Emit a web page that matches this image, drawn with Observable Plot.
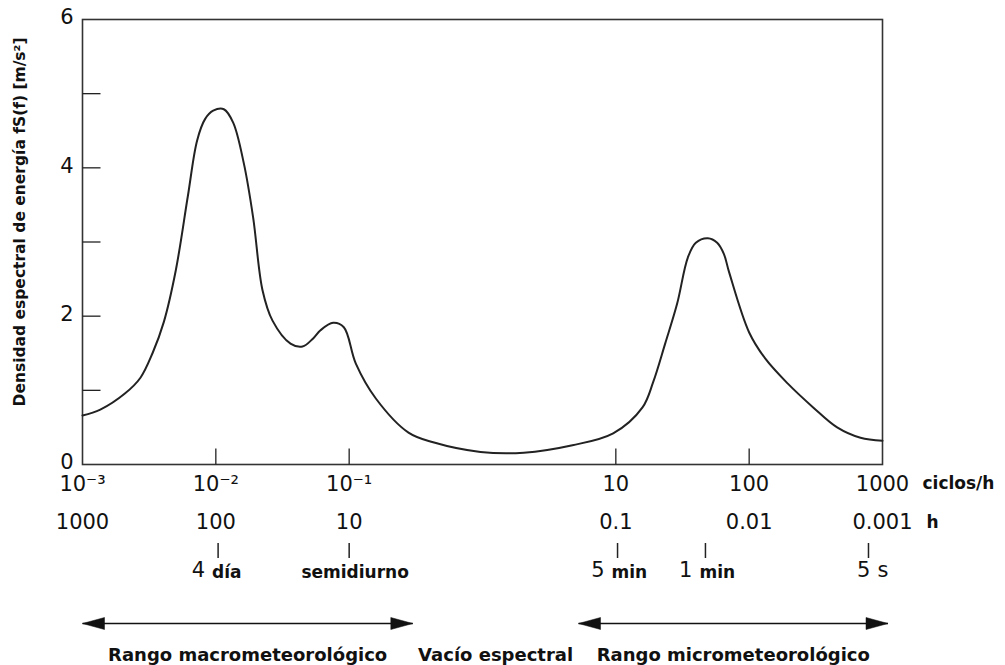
<!DOCTYPE html>
<html>
<head>
<meta charset="utf-8">
<script src="https://cdn.jsdelivr.net/npm/d3@7"></script>
<script src="https://cdn.jsdelivr.net/npm/@observablehq/plot@0.6"></script>
<style>
  html, body { margin: 0; padding: 0; background: #fff; }
  #chart svg { display: block; }
</style>
</head>
<body>
<div id="chart"></div>
<script>
// ---- Data ----
// Frequency in cycles per hour (log axis) and spectral energy density fS(f) [m/s²]
const frequency = [
  0.001, 0.00136, 0.00209, 0.00272, 0.00335, 0.00407, 0.00501, 0.00617, 0.00724,
  0.00832, 0.00955, 0.01148, 0.01349, 0.01622, 0.01905, 0.02239, 0.02661, 0.03631, 0.04467,
  0.0537, 0.06095, 0.07586, 0.0912, 0.1122, 0.1585, 0.2786, 0.4266, 0.966, 2.04,
  4.73, 9.55, 15.85, 19.05, 23.44, 28.84, 34.67, 39.81, 48.98, 57.54,
  64.57, 70.79, 100, 131.8, 195, 302, 457, 684, 1000
];
const density = [
  0.66, 0.74, 0.96, 1.17, 1.50, 1.92, 2.62, 3.62, 4.37,
  4.66, 4.77, 4.79, 4.61, 4.06, 3.33, 2.35, 1.94, 1.63, 1.59,
  1.70, 1.81, 1.91, 1.85, 1.36, 0.89, 0.43, 0.30, 0.17, 0.16,
  0.26, 0.42, 0.77, 1.11, 1.63, 2.17, 2.79, 2.99, 3.05, 2.99,
  2.84, 2.59, 1.78, 1.43, 1.09, 0.77, 0.50, 0.36, 0.32
];

// Axis ticks
const yTickLabels = [0, 2, 4, 6];
const yMinorTicks = [1, 2, 3, 4, 5];
const freqTicks = [0.001, 0.01, 0.1, 10, 100, 1000];
const freqTickLabels = ["10⁻³", "10⁻²", "10⁻¹", "10", "100", "1000"];
const freqInnerTicks = [0.01, 0.1, 10, 100];
const periodHourLabels = ["1000", "100", "10", "0.1", "0.01", "0.001"];

// Characteristic periods
const periodFreq = [0.0104, 0.1, 10.3, 47, 785];
const periodNumber = ["4", "", "5", "1", "5"];
const periodUnit = ["día", "semidiurno", "min", "min", "s"];

// Ranges
const rangeNames = ["Rango macrometeorológico", "Rango micrometeorológico"];
const rangeFrom = [0.001, 5.25];
const rangeTo = [0.30, 1100];
const gapName = "Vacío espectral";

const yTitle = "Densidad espectral de energía fS(f) [m/s²]";
const unitCycles = "ciclos/h";
const unitHours = "h";

// ---- Build tables ----
const spectrum = frequency.map((f, i) => ({f, v: density[i]}));
const cyclesRow = freqTicks.map((f, i) => ({f, label: freqTickLabels[i]}));
const hoursRow = freqTicks.map((f, i) => ({f, label: periodHourLabels[i]}));
const periods = periodFreq.map((f, i) => ({f, num: periodNumber[i], unit: periodUnit[i]}));
const ranges = rangeNames.map((name, i) => ({name, from: rangeFrom[i], to: rangeTo[i], mid: Math.sqrt(rangeFrom[i] * rangeTo[i])}));
const gapMid = Math.sqrt(rangeTo[0] * rangeFrom[1]);

// Custom symbols
const tickUp = {draw(ctx) { ctx.moveTo(0, 0); ctx.lineTo(0, -16); }};
const tickRight = {draw(ctx) { ctx.moveTo(0, 0); ctx.lineTo(18, 0); }};
const tickShort = {draw(ctx) { ctx.moveTo(0, -7.5); ctx.lineTo(0, 7.5); }};
const headRight = {draw(ctx) { ctx.moveTo(0, 0); ctx.lineTo(-22, -6); ctx.lineTo(-22, 6); ctx.closePath(); }};
const headLeft = {draw(ctx) { ctx.moveTo(0, 0); ctx.lineTo(22, -6); ctx.lineTo(22, 6); ctx.closePath(); }};

const FONT = "DejaVu Sans";
const INK = "#111";

const chart = Plot.plot({
  width: 1005,
  height: 665,
  marginLeft: 82,
  marginRight: 123,
  marginTop: 19,
  marginBottom: 201,
  style: {fontFamily: FONT, background: "#fff", color: INK},
  x: {type: "log", domain: [1e-3, 1e3], axis: null},
  y: {domain: [0, 6], axis: null},
  marks: [
    Plot.frame({stroke: "#333", strokeWidth: 1.6}),
    // inner ticks
    Plot.dot(yMinorTicks, {x: () => 1e-3, y: d => d, symbol: tickRight, stroke: "#222", strokeWidth: 1.3, fill: "none"}),
    Plot.dot(freqInnerTicks, {x: d => d, y: () => 0, symbol: tickUp, stroke: "#222", strokeWidth: 1.3, fill: "none"}),
    // y tick labels
    Plot.text(yTickLabels, {x: () => 1e-3, y: d => d, text: d => String(d), textAnchor: "end", dx: -9, dy: -2, fontSize: 21, fill: INK}),
    // y title
    Plot.text([yTitle], {frameAnchor: "left", textAnchor: "middle", text: d => d, rotate: -90, dx: -62, dy: -20, fontSize: 15.5, fontWeight: "bold", fill: INK}),
    // spectrum curve
    Plot.line(spectrum, {x: "f", y: "v", curve: "catmull-rom", stroke: "#222", strokeWidth: 2}),
    // cycles/h row
    Plot.text(cyclesRow, {x: "f", y: () => 0, text: "label", dy: 20, fontSize: 21, fill: INK}),
    Plot.text([unitCycles], {x: () => 1000, y: () => 0, text: d => d, textAnchor: "start", dx: 40, dy: 19, fontSize: 17, fontWeight: "bold", fill: INK}),
    // hours row
    Plot.text(hoursRow, {x: "f", y: () => 0, text: "label", dy: 58, fontSize: 21, fill: INK}),
    Plot.text([unitHours], {x: () => 1000, y: () => 0, text: d => d, textAnchor: "start", dx: 44, dy: 58, fontSize: 17, fontWeight: "bold", fill: INK}),
    // characteristic periods
    Plot.dot(periods, {x: "f", y: () => 0, symbol: tickShort, stroke: "#222", strokeWidth: 1.5, fill: "none", dy: 86}),
    Plot.text(periods.filter(d => d.num !== "" && d.unit !== "s"), {x: "f", y: () => 0, text: "num", textAnchor: "end", dx: -13, dy: 106, fontSize: 21, fill: INK}),
    Plot.text(periods.filter(d => d.unit === "s"), {x: "f", y: () => 0, text: "num", textAnchor: "end", dx: 2, dy: 106, fontSize: 21, fill: INK}),
    Plot.text(periods.filter(d => d.num !== "" && d.unit !== "s"), {x: "f", y: () => 0, text: "unit", textAnchor: "start", dx: -6, dy: 108, fontSize: 17, fontWeight: "bold", fill: INK}),
    Plot.text(periods.filter(d => d.unit === "s"), {x: "f", y: () => 0, text: "unit", textAnchor: "start", dx: 9, dy: 106, fontSize: 21, fill: INK}),
    Plot.text(periods.filter(d => d.num === ""), {x: "f", y: () => 0, text: "unit", dx: 6, dy: 108, fontSize: 17, fontWeight: "bold", fill: INK}),
    // range arrows
    Plot.link(ranges, {x1: "from", x2: "to", y1: () => 0, y2: () => 0, dy: 159, stroke: "#111", strokeWidth: 1.6}),
    Plot.dot(ranges, {x: "from", y: () => 0, dy: 159, symbol: headLeft, fill: "#111", stroke: "#111", strokeWidth: 0.5}),
    Plot.dot(ranges, {x: "to", y: () => 0, dy: 159, symbol: headRight, fill: "#111", stroke: "#111", strokeWidth: 0.5}),
    Plot.text(ranges, {x: "mid", y: () => 0, text: "name", dy: 191, fontSize: 18, fontWeight: "bold", fill: INK}),
    Plot.text([gapName], {x: () => gapMid, y: () => 0, text: d => d, dy: 191, fontSize: 18, fontWeight: "bold", fill: INK})
  ]
});

document.getElementById("chart").appendChild(chart);
</script>
</body>
</html>
